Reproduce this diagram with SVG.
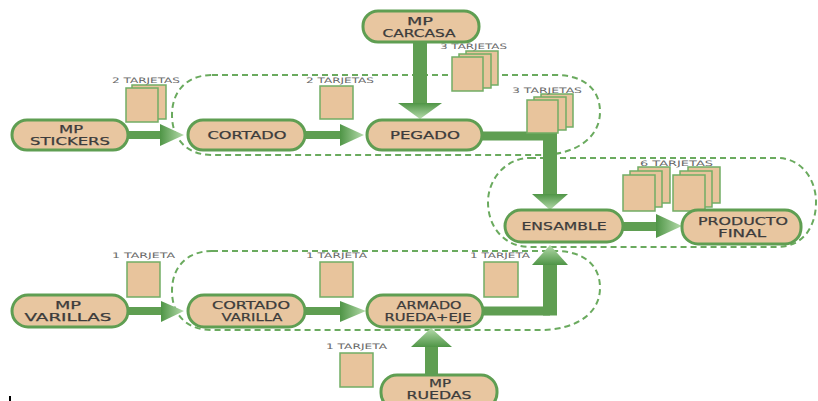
<svg xmlns="http://www.w3.org/2000/svg" width="818" height="401" viewBox="0 0 818 401">
<style>
.node{fill:#e8c6a0;stroke:#5f9e52;stroke-width:3}
.nt{font-family:"DejaVu Sans",Verdana,sans-serif;font-size:11px;fill:#3c3c3c;stroke:#3c3c3c;stroke-width:0.25;text-anchor:middle}
.lbl{font-family:"DejaVu Sans",Verdana,sans-serif;font-size:7.5px;fill:#666;text-anchor:start}
.card{fill:#e8c49c;stroke:#72ad64;stroke-width:1.5}
.box{fill:none;stroke:#6aaa5e;stroke-width:2;stroke-dasharray:6 4}
.shaft{fill:#5f9e52}
.line{fill:none;stroke:#5f9e52;stroke-linejoin:miter}
</style>
<defs>
<linearGradient id="gh" x1="0" y1="0" x2="1" y2="0"><stop offset="0" stop-color="#4f9546"/><stop offset="1" stop-color="#b5dbab"/></linearGradient>
<linearGradient id="gd" x1="0" y1="0" x2="0" y2="1"><stop offset="0" stop-color="#4f9546"/><stop offset="1" stop-color="#b5dbab"/></linearGradient>
<linearGradient id="gu" x1="0" y1="1" x2="0" y2="0"><stop offset="0" stop-color="#4f9546"/><stop offset="1" stop-color="#b5dbab"/></linearGradient>
</defs>
<rect width="818" height="401" fill="#fff"/>

<g id="groups">
<path class="box" d="M212,75 H555 C585,75 600,90 600,112 C600,138 575,155 540,155 H212 C188,155 172,140 172,115 C172,90 188,75 212,75 Z"/>
<path class="box" d="M530,158 H777 C802,158 816,180 816,202 C816,228 802,247 777,247 H530 C505,247 488,228 488,202 C488,180 505,158 530,158 Z"/>
<path class="box" d="M212,251 H555 C585,251 600,266 600,288 C600,314 575,330 540,330 H212 C188,330 172,316 172,291 C172,266 188,251 212,251 Z"/>
</g>

<g id="connectors">
<rect class="shaft" x="128" y="131" width="35" height="8"/>
<polygon fill="url(#gh)" points="160,124 184,135 160,146"/>
<rect class="shaft" x="305" y="131" width="37" height="8"/>
<polygon fill="url(#gh)" points="340,124 364,135 340,146"/>
<rect class="shaft" x="413" y="42" width="14" height="62"/>
<polygon fill="url(#gd)" points="398,103 442,103 420,119"/>
<path class="line" stroke-width="9" d="M482,136 H550"/>
<path class="line" stroke-width="14" d="M550,131.5 V195"/>
<polygon fill="url(#gd)" points="532,194 568,194 550,210"/>
<rect class="shaft" x="623" y="222" width="35" height="9"/>
<polygon fill="url(#gh)" points="656,214 682,226 656,238"/>
<rect class="shaft" x="128" y="307" width="35" height="8"/>
<polygon fill="url(#gh)" points="161,301 184,311 161,322"/>
<rect class="shaft" x="305" y="307" width="37" height="8"/>
<polygon fill="url(#gh)" points="340,301 366,311 340,322"/>
<path class="line" stroke-width="9" d="M482,311 H550"/>
<path class="line" stroke-width="14" d="M550,315.5 V264"/>
<polygon fill="url(#gu)" points="532,265 568,265 550,245"/>
<rect class="shaft" x="425" y="346" width="13" height="30"/>
<polygon fill="url(#gu)" points="411,347 452,347 431,328"/>
</g>

<g id="cards">
<rect class="card" x="132" y="85" width="34" height="34"/>
<rect class="card" x="126" y="88" width="32" height="34"/>
<text class="lbl" x="112" y="83" textLength="68" lengthAdjust="spacingAndGlyphs">2 TARJETAS</text>
<rect class="card" x="320" y="86" width="33" height="33"/>
<text class="lbl" x="306" y="83" textLength="68" lengthAdjust="spacingAndGlyphs">2 TARJETAS</text>
<rect class="card" x="466" y="51" width="32" height="34"/>
<rect class="card" x="459" y="54" width="32" height="34"/>
<rect class="card" x="452" y="57" width="31" height="34"/>
<text class="lbl" x="440" y="49" textLength="67" lengthAdjust="spacingAndGlyphs">3 TARJETAS</text>
<rect class="card" x="541" y="94" width="32" height="33"/>
<rect class="card" x="534" y="97" width="32" height="33"/>
<rect class="card" x="527" y="100" width="31" height="33"/>
<text class="lbl" x="512" y="93" textLength="70" lengthAdjust="spacingAndGlyphs">3 TARJETAS</text>
<rect class="card" x="638" y="167" width="32" height="36"/>
<rect class="card" x="630" y="171" width="32" height="36"/>
<rect class="card" x="623" y="175" width="32" height="36"/>
<rect class="card" x="688" y="167" width="32" height="36"/>
<rect class="card" x="680" y="171" width="32" height="36"/>
<rect class="card" x="673" y="175" width="32" height="36"/>
<text class="lbl" x="640" y="166" textLength="73" lengthAdjust="spacingAndGlyphs">6 TARJETAS</text>
<rect class="card" x="127" y="262" width="33" height="35"/>
<text class="lbl" x="112" y="258" textLength="63" lengthAdjust="spacingAndGlyphs">1 TARJETA</text>
<rect class="card" x="320" y="262" width="33" height="35"/>
<text class="lbl" x="306" y="258" textLength="61" lengthAdjust="spacingAndGlyphs">1 TARJETA</text>
<rect class="card" x="484" y="262" width="34" height="35"/>
<text class="lbl" x="470" y="258" textLength="60" lengthAdjust="spacingAndGlyphs">1 TARJETA</text>
<rect class="card" x="340" y="353" width="33" height="34"/>
<text class="lbl" x="326" y="349" textLength="61" lengthAdjust="spacingAndGlyphs">1 TARJETA</text>
</g>

<g id="mp-carcasa">
<rect class="node" x="363" y="11" width="116" height="31" rx="15"/>
<text class="nt" x="420" y="25" textLength="26" lengthAdjust="spacingAndGlyphs">MP</text>
<text class="nt" x="419" y="37" textLength="73" lengthAdjust="spacingAndGlyphs">CARCASA</text>
</g>
<g id="mp-stickers">
<rect class="node" x="12" y="120" width="116" height="30" rx="15"/>
<text class="nt" x="71" y="133" textLength="24" lengthAdjust="spacingAndGlyphs">MP</text>
<text class="nt" x="70" y="145" textLength="80" lengthAdjust="spacingAndGlyphs">STICKERS</text>
</g>
<g id="cortado">
<rect class="node" x="188" y="120" width="117" height="30" rx="15"/>
<text class="nt" x="247" y="139" textLength="79" lengthAdjust="spacingAndGlyphs">CORTADO</text>
</g>
<g id="pegado">
<rect class="node" x="367" y="120" width="115" height="30" rx="15"/>
<text class="nt" x="425" y="139" textLength="70" lengthAdjust="spacingAndGlyphs">PEGADO</text>
</g>
<g id="ensamble">
<rect class="node" x="505" y="210" width="118" height="32" rx="16"/>
<text class="nt" x="564" y="230" textLength="85" lengthAdjust="spacingAndGlyphs">ENSAMBLE</text>
</g>
<g id="producto-final">
<rect class="node" x="682" y="210" width="119" height="34" rx="16"/>
<text class="nt" x="743" y="225" textLength="90" lengthAdjust="spacingAndGlyphs">PRODUCTO</text>
<text class="nt" x="742" y="237" textLength="48" lengthAdjust="spacingAndGlyphs">FINAL</text>
</g>
<g id="mp-varillas">
<rect class="node" x="12" y="295" width="116" height="32" rx="16"/>
<text class="nt" x="68" y="309" textLength="26" lengthAdjust="spacingAndGlyphs">MP</text>
<text class="nt" x="68" y="321" textLength="87" lengthAdjust="spacingAndGlyphs">VARILLAS</text>
</g>
<g id="cortado-varilla">
<rect class="node" x="188" y="295" width="117" height="32" rx="16"/>
<text class="nt" x="251" y="309" textLength="78" lengthAdjust="spacingAndGlyphs">CORTADO</text>
<text class="nt" x="252" y="321" textLength="61" lengthAdjust="spacingAndGlyphs">VARILLA</text>
</g>
<g id="armado">
<rect class="node" x="367" y="295" width="116" height="32" rx="16"/>
<text class="nt" x="429" y="309" textLength="65" lengthAdjust="spacingAndGlyphs">ARMADO</text>
<text class="nt" x="428" y="321" textLength="87" lengthAdjust="spacingAndGlyphs">RUEDA+EJE</text>
</g>
<g id="mp-ruedas">
<rect class="node" x="381" y="375" width="116" height="34" rx="16"/>
<text class="nt" x="440" y="386.5" font-size="9.5" textLength="22" lengthAdjust="spacingAndGlyphs">MP</text>
<text class="nt" x="439" y="398.5" font-size="9.5" textLength="65" lengthAdjust="spacingAndGlyphs">RUEDAS</text>
</g>
<rect x="9" y="396" width="2" height="5" fill="#000"/>
</svg>
